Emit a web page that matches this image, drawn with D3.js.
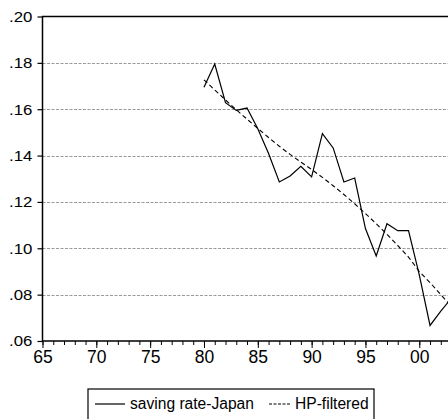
<!DOCTYPE html>
<html>
<head>
<meta charset="utf-8">
<script src="https://cdn.jsdelivr.net/npm/d3@7"></script>
<style>
  html, body { margin: 0; padding: 0; background: #fff; }
  svg { display: block; }
  text { font-family: "Liberation Sans", Arial, sans-serif; fill: #000; }
</style>
</head>
<body>
<svg id="chart" width="448" height="419"></svg>
<script>
// Japanese household saving rate and its Hodrick-Prescott trend
const years = d3.range(1980, 2004);
const savingRate = [0.1695, 0.1795, 0.1628, 0.1595, 0.1605, 0.1516, 0.1409, 0.1286,
                    0.1312, 0.1354, 0.1308, 0.1495, 0.1433, 0.1286, 0.1303, 0.1085,
                    0.0967, 0.1106, 0.1076, 0.1076, 0.0885, 0.0667, 0.0729, 0.0785];
const hpFiltered = [0.1727, 0.1683, 0.1640, 0.1598, 0.1557, 0.1517, 0.1478, 0.1440,
                    0.1405, 0.1372, 0.1340, 0.1306, 0.1270, 0.1232, 0.1192, 0.1150,
                    0.1106, 0.1060, 0.1012, 0.0962, 0.0900, 0.0852, 0.0800, 0.0748];
const yTicks = [0.06, 0.08, 0.10, 0.12, 0.14, 0.16, 0.18, 0.20];
const xMajorTicks = [1965, 1970, 1975, 1980, 1985, 1990, 1995, 2000];
const xMinorTicks = d3.range(1965, 2004);
const legendLabels = ["saving rate-Japan", "HP-filtered"];

const svg = d3.select("#chart");
const plotLeft = 42.5, plotTop = 16.5, plotBottom = 341;
const x = d3.scaleLinear().domain([1965, 2003]).range([plotLeft, plotLeft + 38 * 10.765]);
const y = d3.scaleLinear().domain([0.06, 0.20]).range([plotBottom, plotTop]);

// horizontal dashed grid
svg.append("g").selectAll("line")
  .data(yTicks.filter(v => v > 0.07 && v < 0.19))
  .join("line")
  .attr("x1", plotLeft).attr("x2", x(2003))
  .attr("y1", d => Math.round(y(d)) + 0.5).attr("y2", d => Math.round(y(d)) + 0.5)
  .attr("stroke", "#9a9a9a").attr("stroke-width", 1)
  .attr("stroke-dasharray", "3,1.5");

// y axis
const yAxis = d3.axisLeft(y).tickValues(yTicks).tickSize(5).tickPadding(4)
  .tickFormat(d => d3.format(".2f")(d).replace(/^0/, ""));
const gy = svg.append("g").attr("transform", `translate(${plotLeft},0)`).call(yAxis);
gy.select(".domain").remove();
gy.selectAll(".tick line").attr("stroke", "#000").attr("stroke-width", 1.2);
gy.selectAll(".tick text").attr("font-size", 15).attr("font-family", "Liberation Sans, Arial, sans-serif")
  .attr("transform", "scale(1.12,1)");

// x axis: minor ticks every year, labelled majors every five
const gxMinor = svg.append("g").attr("transform", `translate(0,${plotBottom})`)
  .call(d3.axisBottom(x).tickValues(xMinorTicks).tickSize(4).tickFormat(""));
gxMinor.select(".domain").remove();
gxMinor.selectAll(".tick line").attr("stroke", "#000").attr("stroke-width", 1);
const gx = svg.append("g").attr("transform", `translate(0,${plotBottom})`)
  .call(d3.axisBottom(x).tickValues(xMajorTicks).tickSize(7).tickPadding(3)
    .tickFormat(d => String(d % 100).padStart(2, "0")));
gx.select(".domain").remove();
gx.selectAll(".tick line").attr("stroke", "#000").attr("stroke-width", 1);
gx.selectAll(".tick text").attr("font-size", 17.5).attr("font-family", "Liberation Sans, Arial, sans-serif");

// frame
svg.append("path")
  .attr("d", `M${x(2003)},${plotTop}H${plotLeft}V${plotBottom}H${x(2003)}`)
  .attr("fill", "none").attr("stroke", "#000").attr("stroke-width", 1.5);

// series
const line = d3.line().x((d, i) => x(years[i])).y(d => y(d));
svg.append("path").datum(hpFiltered).attr("d", line)
  .attr("fill", "none").attr("stroke", "#000").attr("stroke-width", 1.1)
  .attr("stroke-dasharray", "4.5,3");
svg.append("path").datum(savingRate).attr("d", line)
  .attr("fill", "none").attr("stroke", "#000").attr("stroke-width", 1.2);

// legend
const lg = svg.append("g");
lg.append("rect").attr("x", 88).attr("y", 389).attr("width", 286).attr("height", 40)
  .attr("fill", "#fff").attr("stroke", "#000").attr("stroke-width", 1.2);
lg.append("line").attr("x1", 95).attr("x2", 125).attr("y1", 404).attr("y2", 404)
  .attr("stroke", "#000").attr("stroke-width", 1.2);
lg.append("text").attr("x", 130).attr("y", 409).attr("font-size", 15.6).text(legendLabels[0]);
lg.append("line").attr("x1", 269).attr("x2", 291).attr("y1", 404).attr("y2", 404)
  .attr("stroke", "#000").attr("stroke-width", 1.2).attr("stroke-dasharray", "3,1.5");
lg.append("text").attr("x", 295).attr("y", 409).attr("font-size", 15.6).text(legendLabels[1]);
</script>
</body>
</html>
